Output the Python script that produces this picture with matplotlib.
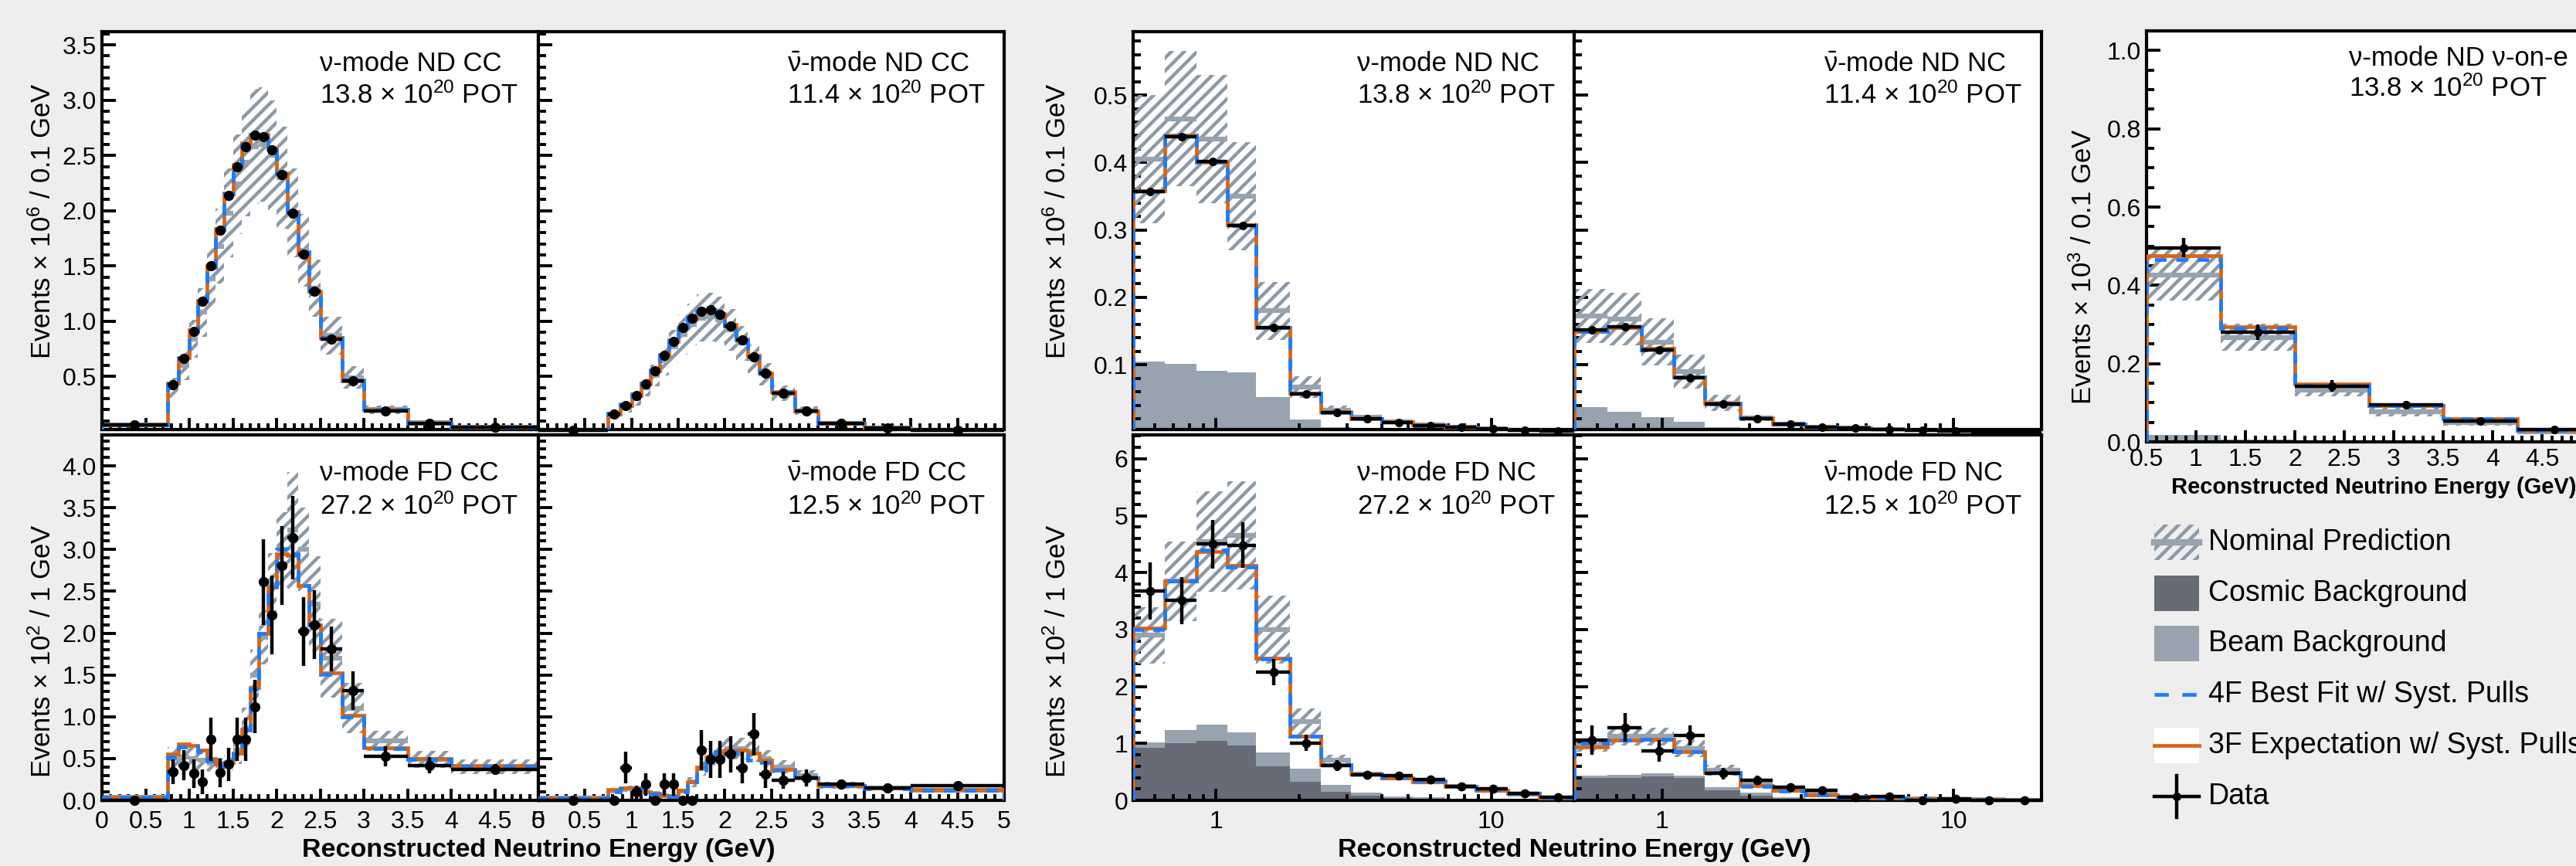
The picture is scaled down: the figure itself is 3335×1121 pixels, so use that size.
import numpy as np
import matplotlib.pyplot as plt
from matplotlib.ticker import (MultipleLocator, FormatStrFormatter, FixedLocator,
                               LogLocator, NullFormatter)
from matplotlib.patches import Rectangle
from matplotlib.lines import Line2D

# colours
BG = '#eeeeee'
HATCH = '#8d99a6'
BEAM = '#97a3af'
COSMIC = '#666b77'
BLUE = '#1a7dff'
ORANGE = '#d96414'

plt.rcParams['font.family'] = ['Liberation Sans', 'DejaVu Sans']
plt.rcParams['mathtext.fontset'] = 'custom'
plt.rcParams['mathtext.rm'] = 'Liberation Sans'
plt.rcParams['mathtext.it'] = 'Liberation Sans:italic'
plt.rcParams['mathtext.bf'] = 'Liberation Sans:bold'
plt.rcParams['mathtext.default'] = 'regular'
plt.rcParams['hatch.linewidth'] = 3.2
plt.rcParams['hatch.color'] = HATCH

# ---------------- binning ----------------
cc_edges = [0, 0.75, 0.875, 1.0, 1.1, 1.2, 1.3, 1.4, 1.5, 1.6, 1.7, 1.8, 1.9, 2.0,
            2.125, 2.25, 2.375, 2.5, 2.75, 3.0, 3.5, 4.0, 5.0]
nc_edges = [0.5, 0.65, 0.85, 1.1, 1.4, 1.85, 2.4, 3.1, 4.0, 5.2, 6.8, 8.8, 11.5, 15.0, 20.0]
nue_edges = [0.5, 1.25, 2.0, 2.75, 3.5, 4.25, 5.0]

# ---------------- nu-mode ND CC ----------------
ndcc_nu_data = [0.06, 0.425, 0.66, 0.905, 1.18, 1.50, 1.82, 2.14, 2.40, 2.58, 2.68, 2.67,
                2.55, 2.33, 1.98, 1.61, 1.27, 0.84, 0.46, 0.19, 0.077, 0.04]
ndcc_nu_4f = [0.06, 0.43, 0.66, 0.91, 1.18, 1.49, 1.83, 2.15, 2.41, 2.60, 2.69, 2.69,
              2.57, 2.34, 2.00, 1.63, 1.28, 0.85, 0.47, 0.20, 0.075, 0.04]
ndcc_nu_3f = [0.06, 0.44, 0.67, 0.92, 1.19, 1.50, 1.84, 2.16, 2.42, 2.61, 2.69, 2.69,
              2.56, 2.34, 1.99, 1.62, 1.27, 0.85, 0.46, 0.20, 0.075, 0.04]
ndcc_nu_nom = [0.06, 0.40, 0.60, 0.84, 1.08, 1.38, 1.68, 1.98, 2.24, 2.44, 2.58, 2.60,
               2.50, 2.30, 1.98, 1.64, 1.30, 0.87, 0.49, 0.20, 0.08, 0.04]
ndcc_nu_nom_err = [0.01, 0.09, 0.13, 0.17, 0.22, 0.28, 0.34, 0.40, 0.45, 0.49, 0.52, 0.52,
                   0.50, 0.46, 0.40, 0.33, 0.26, 0.17, 0.10, 0.04, 0.016, 0.008]

# ---------------- antinu-mode ND CC ----------------
ndcc_nubar_data = [0.01, 0.16, 0.24, 0.33, 0.43, 0.55, 0.69, 0.82, 0.94, 1.03, 1.09, 1.10,
                   1.06, 0.96, 0.83, 0.68, 0.53, 0.35, 0.19, 0.075, 0.035, 0.012]
ndcc_nubar_4f = [0.01, 0.17, 0.25, 0.34, 0.44, 0.56, 0.70, 0.83, 0.95, 1.04, 1.09, 1.10,
                 1.06, 0.96, 0.83, 0.68, 0.53, 0.36, 0.19, 0.075, 0.035, 0.012]
ndcc_nubar_3f = [0.01, 0.16, 0.24, 0.33, 0.43, 0.55, 0.69, 0.82, 0.94, 1.03, 1.09, 1.10,
                 1.07, 0.97, 0.84, 0.69, 0.53, 0.36, 0.19, 0.076, 0.035, 0.012]
ndcc_nubar_nom = [0.01, 0.15, 0.22, 0.30, 0.40, 0.51, 0.64, 0.77, 0.88, 0.97, 1.03, 1.04,
                  1.01, 0.92, 0.80, 0.66, 0.52, 0.35, 0.19, 0.076, 0.036, 0.012]
ndcc_nubar_nom_err = [0.003, 0.03, 0.045, 0.06, 0.08, 0.10, 0.13, 0.15, 0.18, 0.19, 0.21, 0.22,
                      0.21, 0.19, 0.16, 0.13, 0.10, 0.07, 0.04, 0.015, 0.007, 0.003]

# ---------------- nu-mode FD CC ----------------
fdcc_nu_data = [0.0, 0.34, 0.42, 0.32, 0.22, 0.73, 0.33, 0.43, 0.73, 0.73, 1.12, 2.61,
                2.22, 2.81, 3.14, 2.02, 2.10, 1.81, 1.31, 0.53, 0.42, 0.37]
fdcc_nu_data_err = [0.0, 0.15, 0.18, 0.17, 0.15, 0.26, 0.17, 0.20, 0.26, 0.26, 0.32, 0.51,
                    0.47, 0.47, 0.50, 0.41, 0.41, 0.27, 0.23, 0.12, 0.10, 0.06]
fdcc_nu_4f = [0.04, 0.52, 0.64, 0.65, 0.58, 0.47, 0.41, 0.44, 0.55, 0.84, 1.33, 2.00,
              2.56, 3.00, 2.95, 2.57, 2.10, 1.51, 1.00, 0.62, 0.49, 0.41]
fdcc_nu_3f = [0.04, 0.55, 0.67, 0.66, 0.60, 0.50, 0.43, 0.45, 0.56, 0.85, 1.35, 2.00,
              2.55, 2.95, 2.93, 2.57, 2.10, 1.52, 1.02, 0.63, 0.50, 0.42]
fdcc_nu_nom = [0.04, 0.50, 0.52, 0.50, 0.48, 0.44, 0.42, 0.45, 0.60, 0.86, 1.50, 1.95,
               2.58, 3.00, 3.23, 3.00, 2.35, 1.70, 1.10, 0.71, 0.49, 0.40]
fdcc_nu_nom_err = [0.01, 0.14, 0.14, 0.13, 0.12, 0.10, 0.09, 0.09, 0.17, 0.25, 0.30, 0.32,
                   0.38, 0.45, 0.70, 0.50, 0.57, 0.47, 0.30, 0.12, 0.10, 0.09]
fdcc_nu_beam = [0.0, 0.02, 0.03, 0.03, 0.03, 0.03, 0.03, 0.03, 0.03, 0.03, 0.02, 0.02,
                0.02, 0.02, 0.02, 0.02, 0.015, 0.01, 0.01, 0.01, 0.01, 0.01]

# ---------------- antinu-mode FD CC ----------------
fdcc_nubar_data = [0.0, 0.0, 0.39, 0.10, 0.19, 0.0, 0.19, 0.19, 0.0, 0.0, 0.60, 0.49,
                   0.49, 0.55, 0.39, 0.79, 0.31, 0.24, 0.27, 0.19, 0.15, 0.18]
fdcc_nubar_data_err = [0.0, 0.0, 0.19, 0.08, 0.13, 0.0, 0.13, 0.13, 0.0, 0.0, 0.24, 0.22,
                       0.22, 0.22, 0.19, 0.25, 0.16, 0.10, 0.10, 0.06, 0.05, 0.04]
fdcc_nubar_4f = [0.03, 0.10, 0.14, 0.14, 0.10, 0.07, 0.05, 0.05, 0.10, 0.22, 0.36, 0.48,
                 0.58, 0.58, 0.56, 0.48, 0.45, 0.36, 0.27, 0.18, 0.14, 0.12]
fdcc_nubar_3f = [0.03, 0.13, 0.15, 0.15, 0.10, 0.08, 0.06, 0.05, 0.12, 0.22, 0.40, 0.52,
                 0.56, 0.60, 0.60, 0.56, 0.48, 0.37, 0.27, 0.18, 0.15, 0.13]
fdcc_nubar_nom = [0.03, 0.11, 0.14, 0.14, 0.10, 0.08, 0.06, 0.05, 0.11, 0.22, 0.38, 0.52,
                  0.58, 0.62, 0.62, 0.58, 0.50, 0.40, 0.30, 0.18, 0.15, 0.12]
fdcc_nubar_nom_err = [0.01, 0.03, 0.04, 0.04, 0.03, 0.02, 0.02, 0.02, 0.03, 0.06, 0.08, 0.10,
                      0.12, 0.13, 0.13, 0.12, 0.10, 0.08, 0.06, 0.04, 0.03, 0.03]

# ---------------- nu-mode ND NC ----------------
ndnc_nu_data = [0.357, 0.438, 0.401, 0.307, 0.155, 0.057, 0.029, 0.020, 0.014, 0.010,
                0.007, 0.005, 0.003, 0.002]
ndnc_nu_4f = [0.357, 0.440, 0.400, 0.307, 0.155, 0.058, 0.029, 0.020, 0.015, 0.010,
              0.007, 0.005, 0.003, 0.002]
ndnc_nu_3f = [0.358, 0.440, 0.400, 0.308, 0.155, 0.058, 0.030, 0.020, 0.015, 0.011,
              0.007, 0.005, 0.003, 0.002]
ndnc_nu_nom = [0.405, 0.465, 0.435, 0.350, 0.180, 0.067, 0.033, 0.022, 0.015, 0.011,
               0.008, 0.005, 0.003, 0.002]
ndnc_nu_nom_err = [0.095, 0.100, 0.095, 0.080, 0.043, 0.016, 0.006, 0.004, 0.003, 0.002,
                   0.0015, 0.001, 0.001, 0.0005]
ndnc_nu_beam = [0.105, 0.101, 0.091, 0.089, 0.052, 0.019, 0.007, 0.003, 0.002, 0.001,
                0.001, 0.0005, 0.0003, 0.0002]

# ---------------- antinu-mode ND NC ----------------
ndnc_nubar_data = [0.152, 0.156, 0.122, 0.081, 0.042, 0.020, 0.012, 0.008, 0.006, 0.004,
                   0.003, 0.002, 0.001, 0.001]
ndnc_nubar_4f = [0.150, 0.156, 0.122, 0.082, 0.042, 0.021, 0.012, 0.008, 0.006, 0.004,
                 0.003, 0.002, 0.001, 0.001]
ndnc_nubar_3f = [0.150, 0.155, 0.124, 0.082, 0.043, 0.021, 0.012, 0.008, 0.006, 0.004,
                 0.003, 0.002, 0.001, 0.001]
ndnc_nubar_nom = [0.172, 0.168, 0.134, 0.090, 0.043, 0.021, 0.012, 0.008, 0.006, 0.004,
                  0.003, 0.002, 0.001, 0.001]
ndnc_nubar_nom_err = [0.040, 0.039, 0.035, 0.025, 0.012, 0.004, 0.002, 0.0015, 0.001, 0.001,
                      0.0005, 0.0005, 0.0003, 0.0002]
ndnc_nubar_beam = [0.037, 0.030, 0.022, 0.016, 0.008, 0.003, 0.001, 0.0005, 0.0003, 0.0002,
                   0.0001, 0.0001, 0.0001, 0.0001]

# ---------------- nu-mode FD NC ----------------
fdnc_nu_data = [3.68, 3.51, 4.50, 4.48, 2.25, 1.01, 0.61, 0.45, 0.43, 0.36, 0.25, 0.20,
                0.125, 0.05]
fdnc_nu_data_err = [0.50, 0.41, 0.43, 0.40, 0.23, 0.14, 0.10, 0.06, 0.06, 0.05, 0.04, 0.035,
                    0.02, 0.01]
fdnc_nu_4f = [3.00, 3.85, 4.40, 4.10, 2.48, 1.12, 0.62, 0.46, 0.41, 0.34, 0.25, 0.19, 0.12, 0.04]
fdnc_nu_3f = [3.02, 3.85, 4.37, 4.12, 2.50, 1.12, 0.62, 0.46, 0.40, 0.33, 0.25, 0.18, 0.12, 0.04]
fdnc_nu_nom = [2.90, 3.85, 4.55, 4.65, 3.00, 1.38, 0.70, 0.46, 0.40, 0.32, 0.245, 0.18,
               0.115, 0.04]
fdnc_nu_nom_err = [0.50, 0.70, 0.88, 0.95, 0.60, 0.24, 0.10, 0.04, 0.04, 0.03, 0.025, 0.02,
                   0.015, 0.01]
fdnc_nu_cosmic = [0.92, 1.00, 1.05, 0.96, 0.60, 0.32, 0.15, 0.075, 0.04, 0.02, 0.01, 0.005,
                  0.003, 0.002]
fdnc_nu_beam = [0.10, 0.24, 0.28, 0.23, 0.24, 0.24, 0.12, 0.065, 0.03, 0.03, 0.02, 0.015,
                0.007, 0.003]

# ---------------- antinu-mode FD NC ----------------
fdnc_nubar_data = [1.06, 1.28, 0.87, 1.14, 0.47, 0.35, 0.23, 0.17, 0.05, 0.07, 0.0, 0.03,
                   0.0, 0.0]
fdnc_nubar_data_err = [0.26, 0.25, 0.19, 0.18, 0.10, 0.08, 0.06, 0.05, 0.03, 0.03, 0.0, 0.02,
                       0.0, 0.0]
fdnc_nubar_4f = [1.00, 1.06, 1.07, 0.85, 0.49, 0.25, 0.16, 0.10, 0.05, 0.035, 0.025, 0.015,
                 0.01, 0.005]
fdnc_nubar_3f = [0.93, 1.06, 1.07, 0.85, 0.49, 0.26, 0.17, 0.10, 0.05, 0.035, 0.025, 0.015,
                 0.01, 0.005]
fdnc_nubar_nom = [0.97, 1.13, 1.12, 0.91, 0.53, 0.28, 0.18, 0.11, 0.055, 0.04, 0.03, 0.02,
                  0.01, 0.005]
fdnc_nubar_nom_err = [0.12, 0.17, 0.16, 0.15, 0.09, 0.04, 0.03, 0.02, 0.01, 0.008, 0.006,
                      0.004, 0.002, 0.001]
fdnc_nubar_cosmic = [0.40, 0.40, 0.42, 0.40, 0.18, 0.08, 0.03, 0.01, 0.005, 0.003, 0.002,
                     0.001, 0.001, 0.0]
fdnc_nubar_beam = [0.03, 0.05, 0.05, 0.03, 0.05, 0.05, 0.03, 0.01, 0.005, 0.003, 0.002,
                   0.001, 0.001, 0.0]

# ---------------- nu-on-e ----------------
nue_data = [0.496, 0.280, 0.143, 0.095, 0.054, 0.032]
nue_data_err = [0.025, 0.020, 0.015, 0.010, 0.008, 0.006]
nue_4f = [0.465, 0.290, 0.145, 0.092, 0.060, 0.030]
nue_3f = [0.475, 0.295, 0.148, 0.092, 0.060, 0.030]
nue_nom = [0.427, 0.267, 0.133, 0.077, 0.050, 0.025]
nue_nom_err = [0.065, 0.035, 0.017, 0.011, 0.009, 0.005]
nue_beam = [0.017, 0.006, 0.004, 0.003, 0.002, 0.001]

legend_labels = ['Nominal Prediction', 'Cosmic Background', 'Beam Background',
                 '4F Best Fit w/ Syst. Pulls', '3F Expectation w/ Syst. Pulls', 'Data']

POT = r' $\times$ 10$^{20}$ POT'

# ---------------- figure ----------------
W, H = 3335, 1121
fig = plt.figure(figsize=(W / 100, H / 100), dpi=100, facecolor=BG)


def add_axes(x0, x1, y0, y1):
    # pixel box (top-left origin) -> figure fraction
    return fig.add_axes([x0 / W, 1 - y1 / H, (x1 - x0) / W, (y1 - y0) / H])


def draw(ax, edges, nom, nom_err, fit4, fit3, data, data_err=None,
         cosmic=None, beam=None, ms=7.5):
    edges = np.asarray(edges, float)
    nom = np.asarray(nom)
    nom_err = np.asarray(nom_err)
    base = np.zeros(len(edges) - 1)
    if cosmic is not None:
        ax.stairs(cosmic, edges, fill=True, color=COSMIC, lw=0, zorder=1)
        base = np.asarray(cosmic)
    if beam is not None:
        ax.stairs(base + np.asarray(beam), edges, baseline=base, fill=True,
                  color=BEAM, lw=0, zorder=1)
    ax.stairs(nom + nom_err, edges, baseline=nom - nom_err, fill=True,
              facecolor='none', edgecolor=HATCH, hatch='//', lw=0, zorder=2)
    ax.hlines(nom, edges[:-1], edges[1:], colors=BEAM, lw=4.5, zorder=2.5)
    ax.stairs(fit3, edges, color=ORANGE, lw=3.4, zorder=3)
    ax.stairs(fit4, edges, color=BLUE, lw=3.4, ls=(0, (3.2, 2.6)), zorder=4)
    centers = 0.5 * (edges[:-1] + edges[1:])
    ax.errorbar(centers, data, xerr=[centers - edges[:-1], edges[1:] - centers],
                yerr=data_err, fmt='o', color='black', ms=ms, elinewidth=3.2,
                capsize=0, zorder=5, clip_on=False)


def style(ax, ylim, ymaj, ymin, yfmt, xlim=(0, 5), logx=False,
          xlabels=True, ylabels=True):
    for s in ax.spines.values():
        s.set_linewidth(3)
    if logx:
        ax.set_xscale('log')
        ax.xaxis.set_major_locator(FixedLocator([1, 10]))
        ax.xaxis.set_major_formatter(FormatStrFormatter('%g'))
        ax.xaxis.set_minor_locator(LogLocator(base=10, subs=np.arange(2, 10)))
        ax.xaxis.set_minor_formatter(NullFormatter())
    else:
        ax.xaxis.set_major_locator(MultipleLocator(0.5))
        ax.xaxis.set_minor_locator(MultipleLocator(0.1))
        ax.xaxis.set_major_formatter(FormatStrFormatter('%g'))
    ax.set_xlim(*xlim)
    ax.set_ylim(*ylim)
    ax.yaxis.set_major_locator(MultipleLocator(ymaj))
    ax.yaxis.set_minor_locator(MultipleLocator(ymin))
    ax.yaxis.set_major_formatter(FormatStrFormatter(yfmt))
    ax.tick_params(which='both', direction='in', top=False, right=False,
                   width=2.8, labelsize=23, labelbottom=xlabels, labelleft=ylabels)
    ax.tick_params(axis='y', which='major', length=13, pad=5)
    ax.tick_params(axis='y', which='minor', length=7)
    ax.tick_params(axis='x', which='major', length=11, pad=9)
    ax.tick_params(axis='x', which='minor', length=6)


def tag(ax, line1, line2, x, y1, y2):
    ax.text(x, y1, line1, transform=ax.transAxes, fontsize=25, ha='left', va='center',
            zorder=6)
    ax.text(x, y2, line2, transform=ax.transAxes, fontsize=25, ha='left', va='center',
            zorder=6)


TOP = (41, 556)
BOT = (563, 1036)
NUBAR = r'$\bar{\nu}$'
XTITLE = 'Reconstructed Neutrino Energy (GeV)'

# ---- CC block ----
ax = add_axes(132, 697, *TOP)
draw(ax, cc_edges, ndcc_nu_nom, ndcc_nu_nom_err, ndcc_nu_4f, ndcc_nu_3f, ndcc_nu_data,
     ms=8.5)
style(ax, (0.02, 3.62), 0.5, 0.1, '%.1f', xlabels=False)
tag(ax, 'ν-mode ND CC', '13.8' + POT, 0.50, 0.92, 0.839)
ax.set_ylabel(r'Events $\times$ 10$^{6}$ / 0.1 GeV', fontsize=25, va='center')
ax.yaxis.set_label_coords(-0.136, 0.524)

ax = add_axes(697, 1300, *TOP)
draw(ax, cc_edges, ndcc_nubar_nom, ndcc_nubar_nom_err, ndcc_nubar_4f, ndcc_nubar_3f,
     ndcc_nubar_data, ms=8.5)
style(ax, (0.02, 3.62), 0.5, 0.1, '%.1f', xlabels=False, ylabels=False)
tag(ax, NUBAR + '-mode ND CC', '11.4' + POT, 0.534, 0.92, 0.839)

ax = add_axes(132, 697, *BOT)
draw(ax, cc_edges, fdcc_nu_nom, fdcc_nu_nom_err, fdcc_nu_4f, fdcc_nu_3f, fdcc_nu_data,
     fdcc_nu_data_err, beam=fdcc_nu_beam, ms=8.5)
style(ax, (0, 4.37), 0.5, 0.1, '%.1f')
tag(ax, 'ν-mode FD CC', '27.2' + POT, 0.50, 0.895, 0.805)
ax.set_ylabel(r'Events $\times$ 10$^{2}$ / 1 GeV', fontsize=25, va='center')
ax.yaxis.set_label_coords(-0.136, 0.408)

ax = add_axes(697, 1300, *BOT)
draw(ax, cc_edges, fdcc_nubar_nom, fdcc_nubar_nom_err, fdcc_nubar_4f, fdcc_nubar_3f,
     fdcc_nubar_data, fdcc_nubar_data_err, ms=8.5)
style(ax, (0, 4.37), 0.5, 0.1, '%.1f', ylabels=False)
tag(ax, NUBAR + '-mode FD CC', '12.5' + POT, 0.534, 0.895, 0.805)

fig.text(697 / W, 1 - 1100 / H, XTITLE, fontsize=24.5, fontweight='bold',
         ha='center', va='center')

# ---- NC block ----
ax = add_axes(1467, 2038, *TOP)
draw(ax, nc_edges, ndnc_nu_nom, ndnc_nu_nom_err, ndnc_nu_4f, ndnc_nu_3f, ndnc_nu_data,
     beam=ndnc_nu_beam, ms=7)
style(ax, (0.004, 0.594), 0.1, 0.02, '%.1f', xlim=(0.5, 20), logx=True, xlabels=False)
tag(ax, 'ν-mode ND NC', '13.8' + POT, 0.508, 0.92, 0.839)
ax.set_ylabel(r'Events $\times$ 10$^{6}$ / 0.1 GeV', fontsize=25, va='center')
ax.yaxis.set_label_coords(-0.170, 0.524)

ax = add_axes(2038, 2643, *TOP)
draw(ax, nc_edges, ndnc_nubar_nom, ndnc_nubar_nom_err, ndnc_nubar_4f, ndnc_nubar_3f,
     ndnc_nubar_data, beam=ndnc_nubar_beam, ms=7)
style(ax, (0.004, 0.594), 0.1, 0.02, '%.1f', xlim=(0.5, 20), logx=True,
      xlabels=False, ylabels=False)
tag(ax, NUBAR + '-mode ND NC', '11.4' + POT, 0.534, 0.92, 0.839)

ax = add_axes(1467, 2038, *BOT)
draw(ax, nc_edges, fdnc_nu_nom, fdnc_nu_nom_err, fdnc_nu_4f, fdnc_nu_3f, fdnc_nu_data,
     fdnc_nu_data_err, cosmic=fdnc_nu_cosmic, beam=fdnc_nu_beam, ms=7.5)
style(ax, (0, 6.42), 1, 0.2, '%g', xlim=(0.5, 20), logx=True)
tag(ax, 'ν-mode FD NC', '27.2' + POT, 0.508, 0.895, 0.805)
ax.set_ylabel(r'Events $\times$ 10$^{2}$ / 1 GeV', fontsize=25, va='center')
ax.yaxis.set_label_coords(-0.170, 0.408)

ax = add_axes(2038, 2643, *BOT)
draw(ax, nc_edges, fdnc_nubar_nom, fdnc_nubar_nom_err, fdnc_nubar_4f, fdnc_nubar_3f,
     fdnc_nubar_data, fdnc_nubar_data_err, cosmic=fdnc_nubar_cosmic,
     beam=fdnc_nubar_beam, ms=7.5)
style(ax, (0, 6.42), 1, 0.2, '%g', xlim=(0.5, 20), logx=True, ylabels=False)
tag(ax, NUBAR + '-mode FD NC', '12.5' + POT, 0.534, 0.895, 0.805)

fig.text(2038 / W, 1 - 1100 / H, XTITLE, fontsize=24.5, fontweight='bold',
         ha='center', va='center')

# ---- nu-on-e ----
ax = add_axes(2779, 3355, 40, 572)
draw(ax, nue_edges, nue_nom, nue_nom_err, nue_4f, nue_3f, nue_data, nue_data_err,
     beam=nue_beam, ms=7)
style(ax, (0, 1.05), 0.2, 0.05, '%.1f', xlim=(0.5, 5))
ax.tick_params(axis='x', which='major', pad=6)
tag(ax, 'ν-mode ND ν-on-e', '13.8' + POT, 0.455, 0.934, 0.859)
ax.set_ylabel(r'Events $\times$ 10$^{3}$ / 0.1 GeV', fontsize=25, va='center')
ax.yaxis.set_label_coords(-0.142, 0.427)
ax.set_xlabel(XTITLE, fontsize=21, fontweight='bold', va='center')
ax.xaxis.set_label_coords(0.51, -0.111)

# ---- legend ----
LX0, LX1, LTX = 2789, 2847, 2859
rows = [702, 768, 833, 899, 965, 1031]
BOX_H = 46


def fx(x):
    return x / W


def fy(y):
    return 1 - y / H


def box(yc, **kw):
    fig.add_artist(Rectangle((fx(LX0), fy(yc + BOX_H / 2)), (LX1 - LX0) / W, BOX_H / H,
                             transform=fig.transFigure, **kw))


def hline(yc, **kw):
    fig.add_artist(Line2D([fx(LX0), fx(LX1)], [fy(yc), fy(yc)],
                          transform=fig.transFigure, **kw))


box(rows[0], facecolor='none', edgecolor=HATCH, hatch='//', lw=0)
hline(rows[0], color=BEAM, lw=6)
box(rows[1], facecolor=COSMIC, lw=0)
box(rows[2], facecolor=BEAM, lw=0)
hline(rows[3], color=BLUE, lw=3.4, ls=(0, (3.9, 3.7)))
box(rows[4], facecolor='white', lw=0)
hline(rows[4], color=ORANGE, lw=3.4)
hline(rows[5], color='black', lw=3.2)
xc = 0.5 * (LX0 + LX1)
fig.add_artist(Line2D([fx(xc), fx(xc)], [fy(rows[5] - BOX_H / 2 - 4), fy(rows[5] + BOX_H / 2 + 4)],
                      transform=fig.transFigure, color='black', lw=3.2))
fig.add_artist(Line2D([fx(xc)], [fy(rows[5])], transform=fig.transFigure,
                      marker='o', color='black', ms=7))
for yc, lab in zip(rows, legend_labels):
    fig.text(fx(LTX), fy(yc), lab, fontsize=27, ha='left', va='center')

fig.savefig('out.png', dpi=100, facecolor=BG)
